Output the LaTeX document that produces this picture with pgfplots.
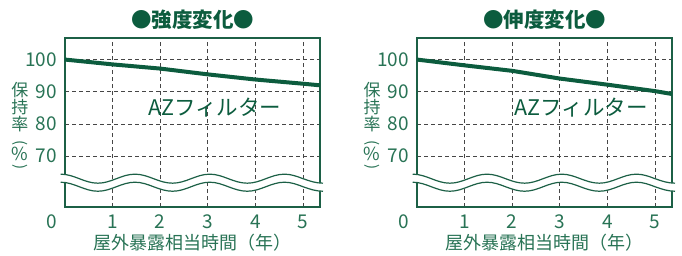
\documentclass[border=0pt]{standalone}
\usepackage{pgfplots}
\pgfplotsset{compat=1.18}
\usepackage{fontspec}
\setmainfont{Noto Sans CJK JP}
\definecolor{lg}{RGB}{12,92,62}
\definecolor{fg}{RGB}{28,96,70}
\definecolor{tg}{RGB}{40,115,85}
\definecolor{gridc}{RGB}{70,70,70}

\newcommand{\wavepath}[3]{(axis cs:-0.09,#1) cos (axis cs:0.30,#2) sin (axis cs:0.69,#3) cos (axis cs:1.08,#2) sin (axis cs:1.47,#1) cos (axis cs:1.86,#2) sin (axis cs:2.26,#3) cos (axis cs:2.65,#2) sin (axis cs:3.04,#1) cos (axis cs:3.43,#2) sin (axis cs:3.83,#3) cos (axis cs:4.22,#2) sin (axis cs:4.61,#1) cos (axis cs:5.0,#2) sin (axis cs:5.42,#3)}

\newcommand{\decor}{%
  \draw[white, line width=8pt] \wavepath{63.15}{61.75}{60.35};
  \draw[fg, line width=1.2pt] \wavepath{64.4}{63.0}{61.6};
  \draw[fg, line width=1.2pt] \wavepath{61.9}{60.5}{59.1};
  \node[anchor=north, inner sep=0pt, font=\fontsize{19}{19}\selectfont, text=tg] at ([xshift=-13pt,yshift=-8pt]rel axis cs:0,0) {0};
  \node[font=\fontsize{18}{18}\selectfont, text=tg, inner sep=0pt] at ([yshift=-36pt]rel axis cs:0.5,0) {屋外暴露相当時間（年）};
  \node[font=\fontsize{17}{17}\selectfont, text=tg, inner sep=0pt] at ([xshift=-45pt,yshift=116.5pt]rel axis cs:0,0) {保};
  \node[font=\fontsize{17}{17}\selectfont, text=tg, inner sep=0pt] at ([xshift=-45pt,yshift=99.5pt]rel axis cs:0,0) {持};
  \node[font=\fontsize{17}{17}\selectfont, text=tg, inner sep=0pt] at ([xshift=-45pt,yshift=83pt]rel axis cs:0,0) {率};
  \node[font=\fontsize{15}{15}\selectfont, text=tg, inner sep=0pt] at ([xshift=-45pt,yshift=63.5pt]rel axis cs:0,0) {\rotatebox{-90}{(}};
  \node[font=\fontsize{18}{18}\selectfont, text=tg, inner sep=0pt] at ([xshift=-45pt,yshift=53.5pt]rel axis cs:0,0) {\%};
  \node[font=\fontsize{15}{15}\selectfont, text=tg, inner sep=0pt] at ([xshift=-45pt,yshift=40pt]rel axis cs:0,0) {\rotatebox{-90}{)}};
}

\pgfplotsset{brk/.style={
  scale only axis, width=255pt, height=169pt, anchor=south west,
  xmin=0, xmax=5.357, ymin=54.2, ymax=106.7,
  xtick={1,2,3,4,5}, ytick={70,80,90,100},
  major tick length=0pt,
  grid=major,
  grid style={gridc, dash pattern=on 4pt off 3pt, line width=0.9pt},
  axis line style={fg, line width=1.8pt},
  tick label style={font=\fontsize{19}{19}\selectfont, text=tg},
  /pgf/number format/assume math mode=true,
  yticklabel style={inner sep=0pt, xshift=-8pt},
  xticklabel style={inner sep=0pt, yshift=-8pt},
  clip=false,
}}

\begin{document}
\begin{tikzpicture}[x=1pt,y=1pt]
\useasboundingbox (0,0) rectangle (682,255);
\begin{axis}[brk, at={(65pt,48pt)}]
  \addplot[lg, line width=4pt] coordinates {(0,100) (1,98.5) (2,97.2) (3,95.4) (4,93.8) (5,92.5) (5.357,92.0)};
  \decor
  \node[font=\fontsize{20.5}{20.5}\selectfont\bfseries, text=lg] at ([yshift=18pt]rel axis cs:0.5,1) {●強度変化●};
  \node[font=\fontsize{21.5}{21.5}\selectfont, text=lg] at (axis cs:3.15,85) {AZフィルター};
\end{axis}
\begin{axis}[brk, at={(417pt,48pt)}, yticklabels={70,80,90,{100\hspace{9pt}}}]
  \addplot[lg, line width=4pt] coordinates {(0,100) (1,98.2) (2,96.5) (3,94.1) (4,92.2) (5,90.2) (5.357,89.3)};
  \decor
  \node[font=\fontsize{20.5}{20.5}\selectfont\bfseries, text=lg] at ([yshift=18pt]rel axis cs:0.5,1) {●伸度変化●};
  \node[font=\fontsize{21.5}{21.5}\selectfont, text=lg] at (axis cs:3.45,85) {AZフィルター};
\end{axis}
\end{tikzpicture}
\end{document}
